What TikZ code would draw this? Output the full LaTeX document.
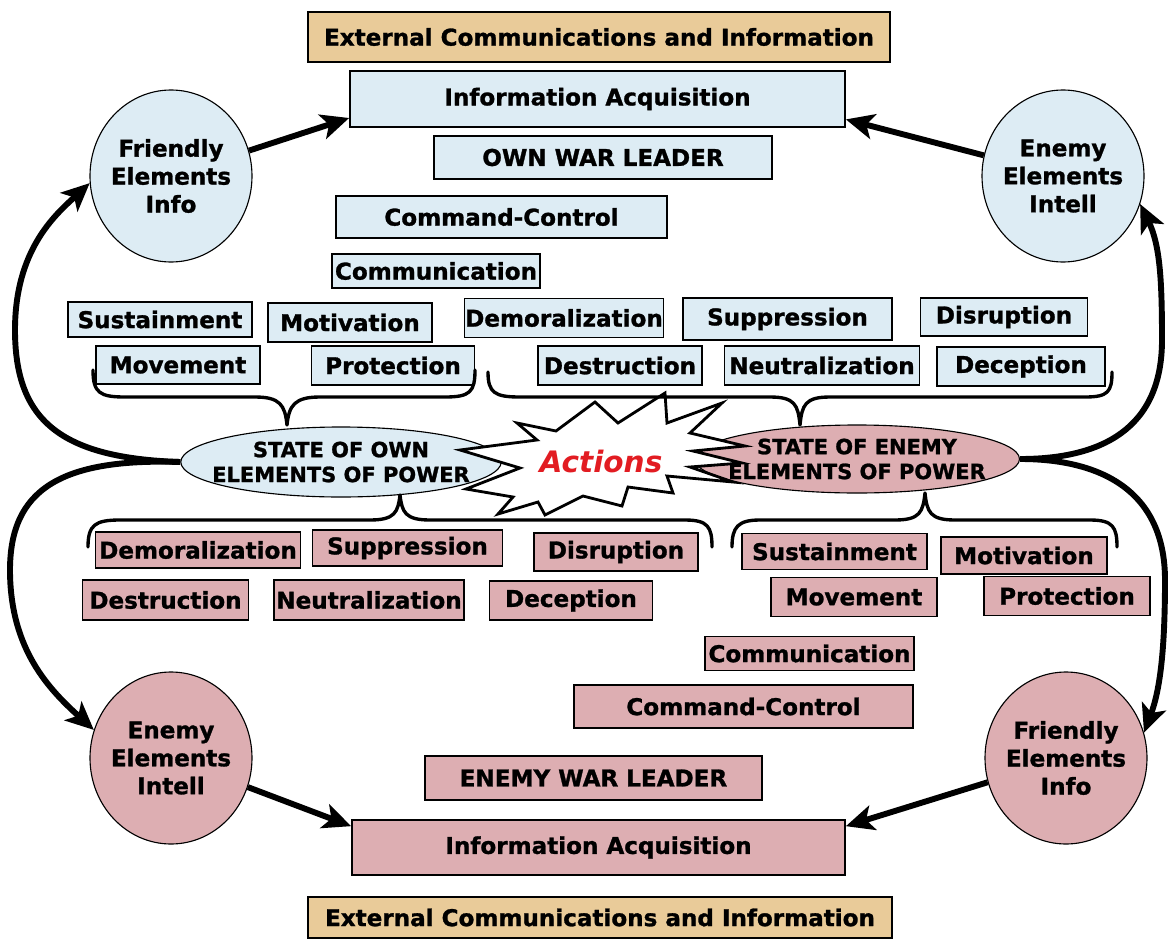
\documentclass[tikz,border=0pt]{standalone}
\usepackage{fontspec}
\setmainfont{DejaVu Sans}[BoldFeatures={FakeBold=1.2}]
\usetikzlibrary{arrows.meta,shapes.geometric}
\definecolor{bluefill}{RGB}{221,236,244}
\definecolor{pinkfill}{RGB}{221,174,178}
\definecolor{tanfill}{RGB}{233,203,153}
\definecolor{actred}{RGB}{226,28,34}

\begin{document}
\begin{tikzpicture}[x=0.025cm, y=-0.025cm,
  lbl/.style={font=\bfseries\fontsize{16.4}{20}\selectfont, text=black},
  sz/.style 2 args={minimum width=#1*0.025cm, minimum height=#2*0.025cm},
  box/.style={lbl, draw=black, line width=1.2pt, inner sep=0pt},
  own/.style={box, fill=bluefill},
  foe/.style={box, fill=pinkfill},
  ext/.style={box, fill=tanfill},
  disc/.style={ellipse, draw=black, line width=0.8pt, align=center, inner sep=-4pt,
    sz={162}{172}, text=black, font=\bfseries\fontsize{16.4}{19.9}\selectfont},
  state/.style={ellipse, draw=black, line width=0.8pt, align=center, inner sep=-11pt,
    text=black, font=\bfseries\fontsize{14.9}{17.7}\selectfont},
  arr/.style={line width=4.2pt, -{Stealth[length=20pt,width=18pt,inset=5pt]}},
  brace/.style={line width=2.4pt, line cap=round, line join=round}
]
\fill[white] (0,0) rectangle (1172,941);
\useasboundingbox (0,0) rectangle (1172,941);

% own side: boxes
\node[ext, sz={582}{50}] (extT) at (599,37) {External Communications and Information};
\node[own, sz={495}{56}] (acqT) at (597.5,99) {Information Acquisition};
\node[own, sz={338}{43}] (leadT) at (603,157.5) {OWN WAR LEADER};
\node[own, sz={331}{42}] (ccT) at (501.5,217) {Command-Control};
\node[own, sz={208}{34}] (comT) at (436,271) {Communication};
\node[own, sz={184}{35}] (susT) at (160,319.5) {Sustainment};
\node[own, sz={164}{39}] (motT) at (350,322.5) {Motivation};
\node[own, sz={199}{39}] (demT) at (564,318) {Demoralization};
\node[own, sz={209}{42}] (supT) at (787.5,319) {Suppression};
\node[own, sz={167}{38}] (disT) at (1004,317) {Disruption};
\node[own, sz={164}{38}] (movT) at (178,365) {Movement};
\node[own, sz={163}{39}] (proT) at (393,365.5) {Protection};
\node[own, sz={164}{39}] (desT) at (620,365.5) {Destruction};
\node[own, sz={195}{39}] (neuT) at (822,365.5) {Neutralization};
\node[own, sz={168}{39}] (decT) at (1021,366.5) {Deception};

% enemy side: boxes
\node[foe, sz={205}{36}] (demB) at (198,550) {Demoralization};
\node[foe, sz={190}{36}] (supB) at (407.5,548) {Suppression};
\node[foe, sz={164}{38}] (disB) at (616,552) {Disruption};
\node[foe, sz={166}{40}] (desB) at (165.5,600) {Destruction};
\node[foe, sz={190}{40}] (neuB) at (369,600) {Neutralization};
\node[foe, sz={163}{39}] (decB) at (571,600.5) {Deception};
\node[foe, sz={185}{36}] (susB) at (834.5,551.5) {Sustainment};
\node[foe, sz={166}{37}] (motB) at (1024,555.5) {Motivation};
\node[foe, sz={166}{39}] (movB) at (854,597) {Movement};
\node[foe, sz={166}{39}] (proB) at (1067,596) {Protection};
\node[foe, sz={209}{34}] (comB) at (809.5,653.5) {Communication};
\node[foe, sz={339}{43}] (ccB) at (743.5,706.5) {Command-Control};
\node[foe, sz={337}{44}] (leadB) at (593.5,778) {ENEMY WAR LEADER};
\node[foe, sz={493}{55}] (acqB) at (598.5,847.5) {Information Acquisition};
\node[ext, sz={584}{41}] (extB) at (600,917.5) {External Communications and Information};

% information sources
\node[disc, fill=bluefill] (fT) at (171,176) {Friendly\\Elements\\Info};
\node[disc, fill=bluefill] (eT) at (1063,176) {Enemy\\Elements\\Intell};
\node[disc, fill=pinkfill] (eB) at (171,758) {Enemy\\Elements\\Intell};
\node[disc, fill=pinkfill] (fB) at (1066,758) {Friendly\\Elements\\Info};

% states of power
\node[state, fill=bluefill, sz={318}{70}] (ownE) at (341,462) {STATE OF OWN\\ELEMENTS OF POWER};
\node[state, fill=pinkfill, sz={325}{68}] (enE) at (857,459) {STATE OF ENEMY\\ELEMENTS OF POWER};

% actions starburst
\draw[line width=2pt, fill=white, line join=miter]
  (517,423) -- (556,431) -- (595,402) -- (618,423) -- (665,393) -- (667,423)
  -- (722,403) -- (690,433) -- (745,446) -- (693,451) -- (742,463) -- (690,467)
  -- (733,482) -- (667,476) -- (673,493) -- (628,487) -- (622,506) -- (583,496)
  -- (545,515) -- (538,502) -- (498,514) -- (513,497) -- (466,489) -- (520,468)
  -- (460,450) -- (537,440) -- cycle;
\node[font=\bfseries\itshape\fontsize{21}{24}\selectfont, text=actred] (act) at (601,461) {Actions};

% braces
\draw[brace] (93,370) .. controls (93,393) and (100,397) .. (125,397) -- (255,397)
  .. controls (280,397) and (285,405) .. (287,425)
  .. controls (289,405) and (295,397) .. (320,397) -- (445,397)
  .. controls (470,397) and (475,392) .. (475,370);
\draw[brace] (488,372) .. controls (488,393) and (495,397) .. (520,397) -- (770,397)
  .. controls (795,397) and (798,405) .. (800,425)
  .. controls (802,405) and (805,397) .. (830,397) -- (1085,397)
  .. controls (1108,397) and (1112,392) .. (1112,372);
\draw[brace] (88,547) .. controls (88,525) and (95,520) .. (120,520) -- (370,520)
  .. controls (395,520) and (398,512) .. (400,495)
  .. controls (402,512) and (405,520) .. (430,520) -- (685,520)
  .. controls (708,520) and (712,527) .. (712,547);
\draw[brace] (732,547) .. controls (732,527) and (738,520) .. (760,520) -- (895,520)
  .. controls (920,520) and (923,512) .. (925,493)
  .. controls (927,512) and (930,520) .. (955,520) -- (1090,520)
  .. controls (1113,520) and (1117,527) .. (1117,547);

% information flows
\draw[arr] (fT) -- ([yshift=7pt]acqT.south west);
\draw[arr] (eT) -- ([yshift=6pt]acqT.south east);
\draw[arr] (eB) -- ([yshift=-5pt]acqB.north west);
\draw[arr] (fB) -- ([yshift=-5pt]acqB.north east);
\draw[arr] (ownE.west) .. controls (60,458) and (15,420) .. (15,330)
  .. controls (15,250) and (55,215) .. (fT.185);
\draw[arr] (ownE.west) .. controls (60,458) and (10,490) .. (10,570)
  .. controls (10,650) and (50,690) .. (eB.160);
\draw[arr] (enE.east) .. controls (1100,459) and (1162,430) .. (1162,340)
  .. controls (1162,280) and (1160,245) .. (eT.-20);
\draw[arr] (enE.east) .. controls (1100,459) and (1165,490) .. (1165,580)
  .. controls (1165,650) and (1160,690) .. (fB.18);
\end{tikzpicture}
\end{document}
